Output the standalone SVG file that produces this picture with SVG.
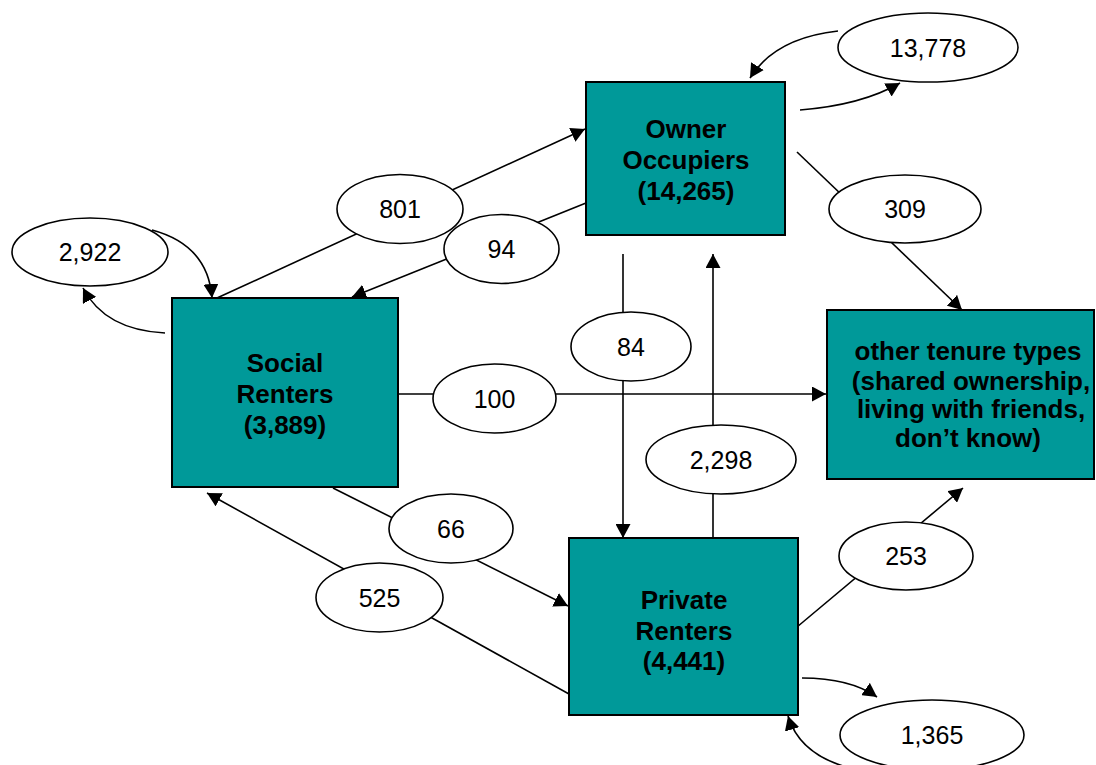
<svg xmlns="http://www.w3.org/2000/svg" width="1096" height="765" viewBox="0 0 1096 765">
<style>
.box{fill:#009999;stroke:#000;stroke-width:2}
.bt{font-family:"Liberation Sans",Arial,sans-serif;font-size:26px;font-weight:bold;fill:#000;text-anchor:middle}
.ell{fill:#fff;stroke:#000;stroke-width:1.6}
.et{font-family:"Liberation Sans",Arial,sans-serif;font-size:25px;fill:#000;text-anchor:middle}
.c{fill:none;stroke:#000;stroke-width:1.6}
.a{marker-end:url(#arr)}
</style>
<defs>
<marker id="arr" markerUnits="userSpaceOnUse" viewBox="0 0 14 15" markerWidth="14" markerHeight="15" refX="14" refY="7.5" orient="auto">
<path d="M0,0 L14,7.5 L0,15 z" fill="#000"/>
</marker>
</defs>
<rect width="1096" height="765" fill="#fff"/>
<g id="connectors">
<path class="c a" d="M217,298 L585,129"/>
<path class="c a" d="M586,203 L352,297"/>
<path class="c a" d="M797,152 L962,310"/>
<path class="c a" d="M623,254 L623,538"/>
<path class="c a" d="M713,538 L713,254"/>
<path class="c a" d="M397,394 L826,394"/>
<path class="c a" d="M333,488 L568,606"/>
<path class="c a" d="M569,694 L207,493"/>
<path class="c a" d="M797,627 L963,488"/>
<path class="c a" d="M838,31 Q775,38 750,78"/>
<path class="c a" d="M800,110 Q862,105 900,83"/>
<path class="c a" d="M152,230 Q208,245 212,298"/>
<path class="c a" d="M165,333 Q105,330 83,288"/>
<path class="c a" d="M802,678 Q850,678 877,697"/>
<path class="c a" d="M850,768 Q800,755 788,716"/>
</g>
<g id="owner">
<rect class="box" x="586" y="82" width="199" height="153"/>
<text class="bt" x="686" y="138">Owner</text>
<text class="bt" x="686" y="169">Occupiers</text>
<text class="bt" x="686" y="200">(14,265)</text>
</g>
<g id="social">
<rect class="box" x="172" y="298" width="226" height="189"/>
<text class="bt" x="285" y="372">Social</text>
<text class="bt" x="285" y="403">Renters</text>
<text class="bt" x="285" y="434">(3,889)</text>
</g>
<g id="other">
<rect class="box" x="827" y="310" width="267" height="169"/>
<text class="bt" x="968" y="360">other tenure types</text>
<text class="bt" x="971" y="390">(shared ownership,</text>
<text class="bt" x="971" y="418">living with friends,</text>
<text class="bt" x="968" y="447">don’t know)</text>
</g>
<g id="private">
<rect class="box" x="569" y="538" width="229" height="177"/>
<text class="bt" x="684" y="609">Private</text>
<text class="bt" x="684" y="640">Renters</text>
<text class="bt" x="684" y="670">(4,441)</text>
</g>
<g id="l13778"><ellipse class="ell" cx="928" cy="47.5" rx="90" ry="34.5"/><text class="et" x="928" y="57">13,778</text></g>
<g id="l2922"><ellipse class="ell" cx="90" cy="252" rx="78" ry="34"/><text class="et" x="90" y="261">2,922</text></g>
<g id="l801"><ellipse class="ell" cx="400" cy="209" rx="63" ry="34.5"/><text class="et" x="400" y="218">801</text></g>
<g id="l94"><ellipse class="ell" cx="501.5" cy="249" rx="57.5" ry="34.5"/><text class="et" x="501.5" y="258">94</text></g>
<g id="l309"><ellipse class="ell" cx="905" cy="209" rx="76" ry="34"/><text class="et" x="905" y="218">309</text></g>
<g id="l84"><ellipse class="ell" cx="631" cy="346.5" rx="60" ry="34.5"/><text class="et" x="631" y="356">84</text></g>
<g id="l100"><ellipse class="ell" cx="494.5" cy="398.5" rx="61.5" ry="34.5"/><text class="et" x="494.5" y="408">100</text></g>
<g id="l2298"><ellipse class="ell" cx="721" cy="459.5" rx="75" ry="34.5"/><text class="et" x="721" y="469">2,298</text></g>
<g id="l66"><ellipse class="ell" cx="451" cy="528.5" rx="62" ry="34.5"/><text class="et" x="451" y="538">66</text></g>
<g id="l525"><ellipse class="ell" cx="379.5" cy="597.5" rx="63.5" ry="34.5"/><text class="et" x="379.5" y="607">525</text></g>
<g id="l253"><ellipse class="ell" cx="906" cy="556" rx="67" ry="34"/><text class="et" x="906" y="565">253</text></g>
<g id="l1365"><ellipse class="ell" cx="932" cy="735" rx="92" ry="35"/><text class="et" x="932" y="744">1,365</text></g>
</svg>
